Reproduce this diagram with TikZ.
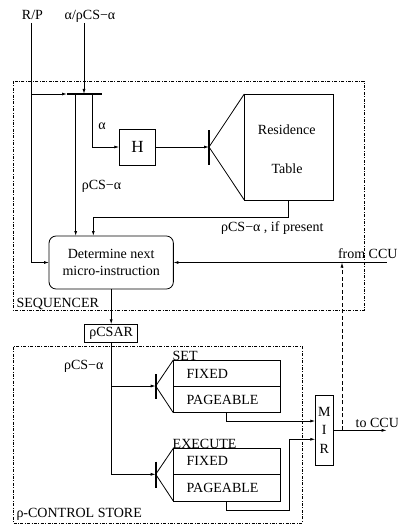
\documentclass[tikz,border=0pt]{standalone}
\usepackage{fontspec}
\setmainfont{Liberation Serif}
\usetikzlibrary{arrows.meta}
\begin{document}
\begin{tikzpicture}[x=1pt,y=-1pt,
  every node/.style={inner sep=0pt,outer sep=0pt},
  box/.style={draw,line width=0.8pt,font=\fontsize{14}{17.7}\selectfont},
  txt/.style={font=\fontsize{14}{16}\selectfont},
  arr/.style={line width=0.8pt,-{Latex[length=5pt,width=3pt]}},
  ln/.style={line width=0.8pt},
  thickbar/.style={line width=2.2pt},
  dd/.style={line width=0.7pt,dash pattern=on 3pt off 1.5pt on 0.8pt off 1.5pt},
  dsh/.style={dash pattern=on 4pt off 2.5pt}]
\useasboundingbox (0,0) rectangle (398,524);
% frames
\draw[dd] (13,81) rectangle (364.3,310);
\draw[dd] (13,346.7) rectangle (302.3,523);
% nodes
\node[box,rounded corners=7pt,minimum width=124.3pt,minimum height=53pt,align=center] (det) at (111.2,262.5) {Determine next\\micro-instruction};
\node[box,minimum width=36.4pt,minimum height=36pt,font=\fontsize{17}{20}\selectfont] (H) at (137.5,147) {H};
\node[box,minimum width=89pt,minimum height=106pt] (rt) at (288.8,147) {};
\node[txt,anchor=base] (rtA) at (286.7,135) {Residence};
\node[txt,anchor=base] (rtB) at (287,173.3) {Table};
\node[box,minimum width=53pt,minimum height=18.4pt] (csar) at (111.2,333.5) {ρCSAR};
\node[box,minimum width=106.7pt,minimum height=26pt] (setF) at (226.65,373) {};
\node[box,minimum width=106.7pt,minimum height=26.7pt] (setP) at (226.65,399.35) {};
\node[box,minimum width=106.7pt,minimum height=26pt] (exF) at (226.65,461.3) {};
\node[box,minimum width=106.7pt,minimum height=26.7pt] (exP) at (226.65,487.65) {};
\node[box,minimum width=18pt,minimum height=70.7pt,align=center,font=\fontsize{14}{18.3}\selectfont] (mir) at (324.3,430.35) {M\\I\\R};
% labels
\node[txt,anchor=base] (rp) at (32.5,19.5) {R/P};
\node[txt,anchor=base] (ain) at (90,19.5) {α/ρCS−α};
\node[txt] (alab) at (102,126) {α};
\node[txt,anchor=base] (l1) at (101.5,189) {ρCS−α};
\node[txt,anchor=base] (l2) at (272.3,231.5) {ρCS−α , if present};
\node[txt,anchor=base west] (lfrom) at (338,258.3) {from CCU};
\node[txt,anchor=base west] (lto) at (355.7,427) {to CCU};
\node[txt,anchor=base] (l3) at (83.8,369) {ρCS−α};
\node[txt,anchor=base west] (lseq) at (16.5,307.5) {SEQUENCER};
\node[txt,anchor=base west] (lcs) at (16.5,517.5) {ρ-CONTROL STORE};
\node[txt,anchor=base west] (lset) at (172.7,360) {SET};
\node[txt,anchor=base west] (lexe) at (172.7,448.3) {EXECUTE};
\node[txt,anchor=base west] (sF) at (186.7,378.3) {FIXED};
\node[txt,anchor=base west] (sP) at (186.7,404.3) {PAGEABLE};
\node[txt,anchor=base west] (eF) at (186.7,465.7) {FIXED};
\node[txt,anchor=base west] (eP) at (186.7,492.7) {PAGEABLE};
% coordinates
\coordinate (rpS) at (31,23);
\coordinate (rpB) at (31,94);
\coordinate (ainS) at (84,23);
\coordinate (b1A) at (84,94);
\coordinate (b1L) at (67,94);
\coordinate (b1R) at (102,94);
\coordinate (b1D) at (75.7,94);
\coordinate (b1E) at (92.7,94);
\coordinate (b2T) at (209,130);
\coordinate (b2B) at (209,165);
\coordinate (b2M) at (209,147);
\coordinate (fb) at (93.3,217.7);
\coordinate (ccuIn) at (386.7,262.5);
\coordinate (b3T) at (155.7,374);
\coordinate (b3B) at (155.7,399);
\coordinate (b3M) at (155.7,386);
\coordinate (b4T) at (155.7,461.7);
\coordinate (b4B) at (155.7,487.7);
\coordinate (b4M) at (155.7,474.3);
\coordinate (m1) at (0,421);
\coordinate (m2) at (0,439.3);
\coordinate (ex2) at (289,510);
\coordinate (ccuOut) at (386.7,430.35);
\coordinate (dsB) at (342,430.35);
\coordinate (dsT) at (342,262.5);
% connectors
\draw[arr] (rpS) |- (det.west);
\draw[arr] (rpB) -- (b1L);
\draw[arr] (ainS) -- (b1A);
\draw[thickbar] (b1L) -- (b1R);
\draw[arr] (b1D) -- (b1D |- det.north);
\draw[arr] (b1E) |- (H.west);
\draw[arr] (H.east) -- (b2M);
\draw[thickbar] (b2T) -- (b2B);
\draw[ln] (b2M) -- (rt.north west);
\draw[ln] (b2M) -- (rt.south west);
\draw[arr] (rt.south) |- (fb) -- (fb |- det.north);
\draw[arr] (ccuIn) -- (det.east);
\draw[arr] (det.south) -- (csar.north);
\draw[arr] (csar.south) |- (b4M);
\draw[arr] (csar.south |- b3M) -- (b3M);
\draw[thickbar] (b3T) -- (b3B);
\draw[ln] (b3M) -- (setF.north west);
\draw[ln] (b3M) -- (setP.south west);
\draw[thickbar] (b4T) -- (b4B);
\draw[ln] (b4M) -- (exF.north west);
\draw[ln] (b4M) -- (exP.south west);
\draw[arr] (setP.south) |- (mir.west |- m1);
\draw[arr] (exP.south) |- (ex2) |- (mir.west |- m2);
\draw[arr] (mir.east) -- (ccuOut);
\draw[arr,dsh] (dsB) -- (dsT);
\end{tikzpicture}
\end{document}
